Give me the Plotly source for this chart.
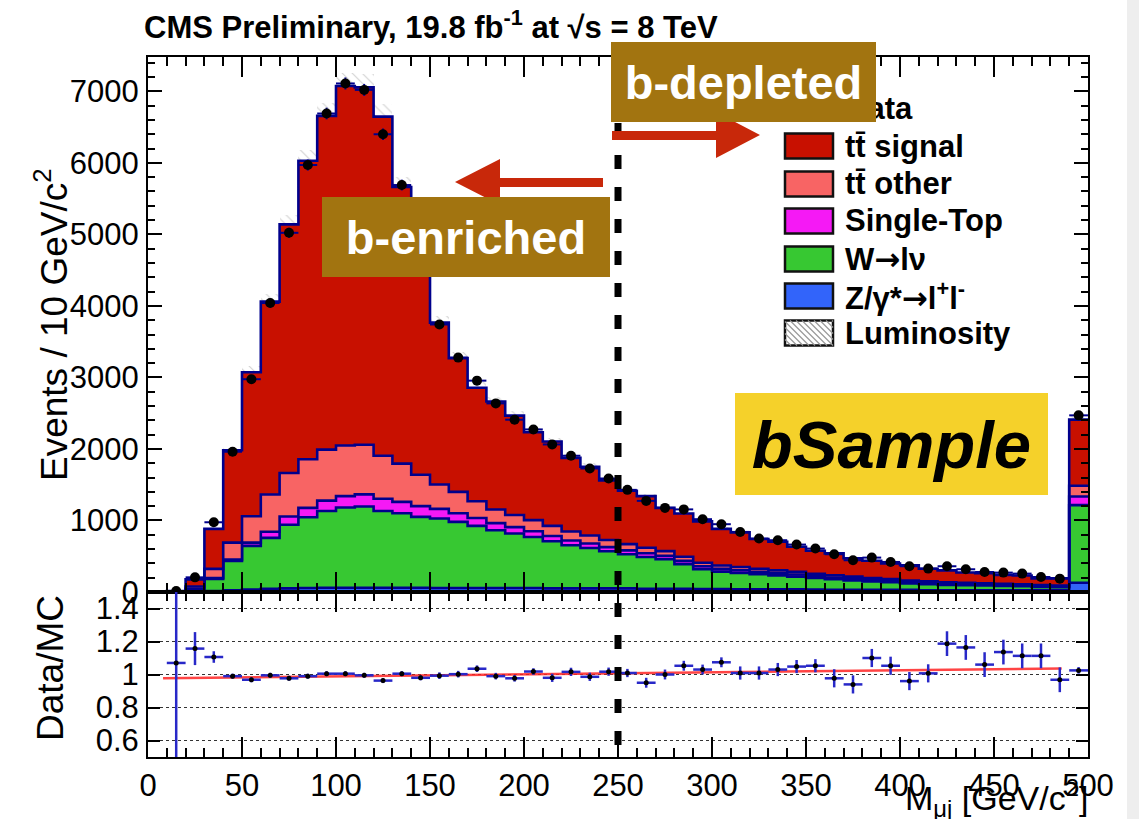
import numpy as np
import plotly.graph_objects as go

# ---------------- histogram content: 10 GeV/c^2 bins, 0-500 (last bin incl. overflow) ----------------
bin_low = list(range(0, 500, 10))

data_events = [None, 14, 205, 975, 1961, 2975, 4040, 5022, 5970, 6690,
               7110, 7020, 6400, 5690, 4750, 3740, 3277, 2955, 2637, 2409,
               2273, 2063, 1905, 1727, 1587, 1428, 1274, 1176, 1155, 1018,
               948, 840, 747, 724, 663, 607, 528, 444, 481, 420,
               360, 327, 360, 318, 280, 271, 257, 210, 187, 2470]

z_gamma = [0, 1, 5, 15, 25, 35, 45, 50, 55, 60,
           60, 60, 60, 60, 60, 55, 55, 55, 55, 55,
           55, 50, 50, 50, 50, 50, 45, 45, 45, 40,
           40, 38, 38, 38, 38, 36, 32, 32, 32, 32,
           32, 25, 25, 25, 25, 25, 25, 25, 25, 130]

w_jets = [0, 4, 35, 168, 409, 610, 712, 890, 991, 1073,
          1121, 1135, 1073, 1040, 990, 972, 925, 869, 808, 762,
          715, 659, 603, 566, 519, 477, 445, 412, 345, 280,
          245, 230, 212, 194, 177, 159, 146, 131, 116, 104,
          86, 85, 75, 70, 65, 60, 55, 47, 41, 1085]

single_top = [0, 1, 5, 12, 20, 45, 85, 115, 130, 145,
              160, 170, 170, 160, 150, 135, 120, 110, 100, 90,
              80, 75, 68, 62, 58, 55, 52, 48, 45, 40,
              38, 36, 33, 31, 29, 26, 25, 22, 20, 19,
              17, 16, 15, 14, 13, 12, 11, 10, 9, 120]

tt_other = [0, 2, 32, 128, 237, 370, 522, 608, 679, 712,
            707, 693, 601, 535, 440, 341, 300, 235, 190, 170,
            155, 140, 125, 112, 100, 88, 76, 66, 58, 50,
            48, 45, 42, 40, 37, 34, 32, 30, 28, 26,
            24, 22, 21, 20, 19, 18, 17, 16, 15, 150]

tt_signal = [0, 5, 100, 559, 1290, 2013, 2696, 3477, 4175, 4667,
             5027, 4997, 4742, 3867, 3207, 2263, 1870, 1586, 1511, 1389,
             1228, 1181, 1029, 962, 833, 745, 723, 605, 604, 578,
             512, 484, 415, 400, 352, 321, 305, 257, 241, 218,
             216, 177, 167, 144, 142, 124, 123, 91, 103, 925]

# Data/MC ratio and its uncertainty
ratio = [None, 1.07, 1.157, 1.106, 0.99, 0.968, 0.995, 0.977, 0.99, 1.005,
         1.005, 0.995, 0.963, 1.005, 0.98, 0.993, 1.002, 1.035, 0.99, 0.977,
         1.018, 0.98, 1.016, 0.986, 1.017, 1.009, 0.95, 1.0, 1.053, 1.03,
         1.074, 1.009, 1.009, 1.03, 1.048, 1.053, 0.977, 0.94, 1.1, 1.053,
         0.96, 1.007, 1.187, 1.164, 1.06, 1.136, 1.113, 1.113, 0.968, 1.025]

ratio_err = [None, 2.0, 0.10, 0.035, 0.015, 0.015, 0.015, 0.015, 0.015, 0.015,
             0.015, 0.015, 0.015, 0.015, 0.015, 0.02, 0.02, 0.02, 0.02, 0.02,
             0.02, 0.025, 0.025, 0.025, 0.025, 0.025, 0.03, 0.03, 0.03, 0.03,
             0.03, 0.04, 0.04, 0.04, 0.04, 0.04, 0.055, 0.055, 0.055, 0.055,
             0.055, 0.055, 0.075, 0.075, 0.075, 0.075, 0.075, 0.075, 0.075, 0.02]

# straight-line fit drawn on the ratio
fit_x = [8, 486]
fit_y = [0.978, 1.036]

lumi_unc = 0.026          # relative luminosity uncertainty (hatched band)
cut_value = 250           # b-enriched / b-depleted boundary

x_tick_vals = [0, 50, 100, 150, 200, 250, 300, 350, 400, 450, 500]
ratio_tick_vals = [0.6, 0.8, 1.0, 1.2, 1.4]
ratio_tick_text = ["0.6", "0.8", "1", "1.2", "1.4"]

# ---------------- canvas helpers (pixel -> paper) ----------------
W, H = 1139, 819
def X(px):
    return px / W
def Y(py):
    return 1 - py / H

FONT = "Liberation Sans, Arial, Helvetica, sans-serif"
NAVY = "#00008C"
ARROW = "<span style='font-family:DejaVu Sans'>\u2192</span>"

edges = np.array(bin_low + [500], dtype=float)
centers = np.array(bin_low, dtype=float) + 5

components = [
    (f"Z/\u03b3*{ARROW}l<sup>+</sup>l<sup>-</sup>", z_gamma, "#3264FA"),
    (f"W{ARROW}l\u03bd", w_jets, "#37C832"),
    ("Single-Top", single_top, "#F519F5"),
    ("tt\u0304 other", tt_other, "#F86464"),
    ("tt\u0304 signal", tt_signal, "#C81000"),
]
cum = np.cumsum(np.array([c[1] for c in components], dtype=float), axis=0)
total = cum[-1]

fig = go.Figure()

# luminosity band (hatched), drawn beneath the stack
fig.add_trace(go.Bar(
    x=centers, y=2 * lumi_unc * total, base=total * (1 - lumi_unc), width=10,
    marker=dict(color="rgba(0,0,0,0)", line=dict(width=0),
                pattern=dict(shape="\\", fgcolor="#a0a0a0", size=7, solidity=0.15)),
    xaxis="x", yaxis="y", hoverinfo="skip", showlegend=False))

# stacked step histograms
for i, (name, vals, col) in enumerate(components):
    yv = np.append(cum[i], cum[i][-1])
    fig.add_trace(go.Scatter(
        x=edges, y=yv, mode="lines",
        line=dict(shape="hv", color=NAVY, width=2.6),
        fill="tozeroy" if i == 0 else "tonexty", fillcolor=col,
        xaxis="x", yaxis="y", hoverinfo="skip", showlegend=False))

# data points
d_x = [c for c, d in zip(centers, data_events) if d is not None]
d_y = [d for d in data_events if d is not None]
fig.add_trace(go.Scatter(
    x=d_x, y=d_y, mode="markers",
    marker=dict(color="black", size=10),
    error_x=dict(type="constant", value=5, color=NAVY, thickness=2, width=0),
    error_y=dict(type="data", array=np.sqrt(d_y), color=NAVY, thickness=2, width=0),
    xaxis="x", yaxis="y", showlegend=False, hoverinfo="skip"))

# ratio panel
fig.add_trace(go.Scatter(
    x=fit_x, y=fit_y, mode="lines",
    line=dict(color="rgba(255,35,35,0.85)", width=2.5),
    xaxis="x2", yaxis="y2", showlegend=False, hoverinfo="skip"))
r_x = [c for c, r in zip(centers, ratio) if r is not None]
r_y = [r for r in ratio if r is not None]
r_e = [e for e in ratio_err if e is not None]
fig.add_trace(go.Scatter(
    x=r_x, y=r_y, mode="markers",
    marker=dict(color="black", size=5),
    error_x=dict(type="constant", value=5, color="#2828C8", thickness=2.5, width=0),
    error_y=dict(type="data", array=r_e, color="#2828C8", thickness=2.5, width=0),
    xaxis="x2", yaxis="y2", showlegend=False, hoverinfo="skip"))

x_dom = [X(148), X(1088)]
main_dom = [Y(592), Y(57)]
ratio_dom = [Y(757), Y(592)]

axis_common = dict(showline=True, linewidth=2, linecolor="black", mirror="allticks",
                   ticks="inside", tickcolor="black", tickwidth=1.5,
                   showgrid=False, zeroline=False, automargin=False)

fig.update_layout(
    width=W, height=H, margin=dict(l=0, r=0, t=0, b=0, pad=0), autosize=False,
    paper_bgcolor="white", plot_bgcolor="white", showlegend=False,
    font=dict(family=FONT, size=31, color="black"),
    bargap=0,
    xaxis=dict(domain=x_dom, anchor="y", range=[0, 500], tickvals=x_tick_vals,
               showticklabels=False, ticklen=20,
               minor=dict(dtick=10, tick0=0, ticklen=9, ticks="inside", tickcolor="black", tickwidth=1.5),
               **axis_common),
    yaxis=dict(domain=main_dom, anchor="x", range=[0, 7480], dtick=1000, tick0=0,
               ticklen=14, ticklabelstandoff=1,
               minor=dict(dtick=200, tick0=0, ticklen=7, ticks="inside", tickcolor="black", tickwidth=1.5),
               **axis_common),
    xaxis2=dict(domain=x_dom, anchor="y2", range=[0, 500], tickvals=x_tick_vals,
                ticklen=20, ticklabelstandoff=0, matches="x", tickfont=dict(size=31),
                minor=dict(dtick=10, tick0=0, ticklen=9, ticks="inside", tickcolor="black", tickwidth=1.5),
                **axis_common),
    yaxis2=dict(domain=ratio_dom, anchor="x2", range=[0.5, 1.5],
                tickvals=ratio_tick_vals, ticktext=ratio_tick_text,
                ticklen=12, ticklabelstandoff=1, automargin=False,
                showline=True, linewidth=2, linecolor="black", mirror="allticks",
                ticks="inside", tickcolor="black", tickwidth=1.5, zeroline=False,
                showgrid=True, gridcolor="#333333", griddash="dot", gridwidth=1.2),
)

shapes = []
# light strip at the right edge of the page
shapes.append(dict(type="rect", xref="paper", yref="paper", x0=X(1127), x1=1, y0=0, y1=1,
                   fillcolor="#eeeeee", line=dict(width=0), layer="below"))

# b-tag region boundary
shapes.append(dict(type="line", xref="x", yref="paper", x0=cut_value, x1=cut_value,
                   y0=Y(745), y1=Y(60), line=dict(color="black", width=7, dash="14px,18px"),
                   layer="above"))

# arrows
RED = "#C8280A"
def path(points):
    return "M " + " L ".join(f"{X(px):.5f},{Y(py):.5f}" for px, py in points) + " Z"

shapes.append(dict(type="path", xref="paper", yref="paper", layer="above",
                   path=path([(612, 131), (716, 131), (716, 112), (760, 135), (716, 158), (716, 140), (612, 140)]),
                   fillcolor=RED, line=dict(width=0)))
shapes.append(dict(type="path", xref="paper", yref="paper", layer="above",
                   path=path([(603, 178), (500, 178), (500, 159), (455, 182), (500, 205), (500, 187), (603, 187)]),
                   fillcolor=RED, line=dict(width=0)))

# legend
leg_box_x0, leg_box_x1 = 785, 833
leg_text_x = 843
leg_rows = [146, 184, 221, 259, 296, 333]
leg_entries = list(reversed(components))  # tt signal first
for (name, _, col), yc in zip(leg_entries, leg_rows[:5]):
    shapes.append(dict(type="rect", xref="paper", yref="paper", layer="above",
                       x0=X(leg_box_x0), x1=X(leg_box_x1), y0=Y(yc + 12.5), y1=Y(yc - 12.5),
                       fillcolor=col, line=dict(color="#111111", width=2.5)))
# luminosity legend swatch: white box with diagonal hatching
ly = leg_rows[5]
lx0, lx1, ly0, ly1 = leg_box_x0, leg_box_x1, ly - 12.5, ly + 12.5
shapes.append(dict(type="rect", xref="paper", yref="paper", layer="above",
                   x0=X(lx0), x1=X(lx1), y0=Y(ly1), y1=Y(ly0),
                   fillcolor="white", line=dict(color="#111111", width=2.5)))
h = ly1 - ly0
segs = []
for a in np.arange(lx0 - h, lx1, 6.0):
    sx, sy = a, ly0
    ex, ey = a + h, ly1
    if sx < lx0:
        sy += lx0 - sx
        sx = lx0
    if ex > lx1:
        ey -= ex - lx1
        ex = lx1
    if ex > sx:
        segs.append(f"M {X(sx):.5f},{Y(sy):.5f} L {X(ex):.5f},{Y(ey):.5f}")
shapes.append(dict(type="path", xref="paper", yref="paper", layer="above",
                   path=" ".join(segs), line=dict(color="#9a9a9a", width=1.2)))
# data marker in legend
shapes.append(dict(type="line", xref="paper", yref="paper", layer="above",
                   x0=X(790), x1=X(828), y0=Y(109), y1=Y(109), line=dict(color=NAVY, width=2)))
shapes.append(dict(type="circle", xref="paper", yref="paper", layer="above",
                   x0=X(804), x1=X(814), y0=Y(114), y1=Y(104), fillcolor="black", line=dict(width=0)))

annotations = []
def text(px, py, s, size=31, xanchor="left", yanchor="middle", angle=0, color="black"):
    annotations.append(dict(xref="paper", yref="paper", x=X(px), y=Y(py), text=s,
                            showarrow=False, xanchor=xanchor, yanchor=yanchor, textangle=angle,
                            font=dict(family=FONT, size=size, color=color)))

# legend labels
text(leg_text_x, 109, "<b>Data</b>")
for (name, _, _), yc in zip(leg_entries, leg_rows[:5]):
    text(leg_text_x, yc, f"<b>{name}</b>")
text(leg_text_x, leg_rows[5], "<b>Luminosity</b>")

# header and axis titles
text(142, 25, "<b>CMS Preliminary, 19.8 fb<sup>-1</sup> at \u221as = 8 TeV</b>", size=31)
text(52, 325, "Events / 10 GeV/c<sup>2</sup>", size=37, xanchor="center", angle=-90)
text(50, 668, "Data/MC", size=37, xanchor="center", angle=-90)
text(1090, 824, "M<sub>\u03bcj</sub> [GeV/c<sup>2</sup>]", size=34, xanchor="right", yanchor="bottom")

# region labels
def label_box(x0, y0, w, hgt, s, size, bg, color):
    annotations.append(dict(xref="paper", yref="paper", x=X(x0), y=Y(y0), xanchor="left", yanchor="top",
                            width=w, height=hgt, text=s, showarrow=False, bgcolor=bg,
                            borderpad=0, borderwidth=0, align="center", valign="middle",
                            font=dict(family=FONT, size=size, color=color)))

BROWN = "#A27410"
label_box(611, 42, 265, 80, "<b>b-depleted</b>", 47, BROWN, "white")
label_box(322, 197, 288, 80, "<b>b-enriched</b>", 47, BROWN, "white")
label_box(735, 393, 313, 102, "<b><i>bSample</i></b>", 67, "#F5D12A", "black")

fig.update_layout(shapes=shapes, annotations=annotations)
fig.write_html("out.html",
               post_script="document.body.style.margin='0px';document.body.style.overflow='hidden';")
